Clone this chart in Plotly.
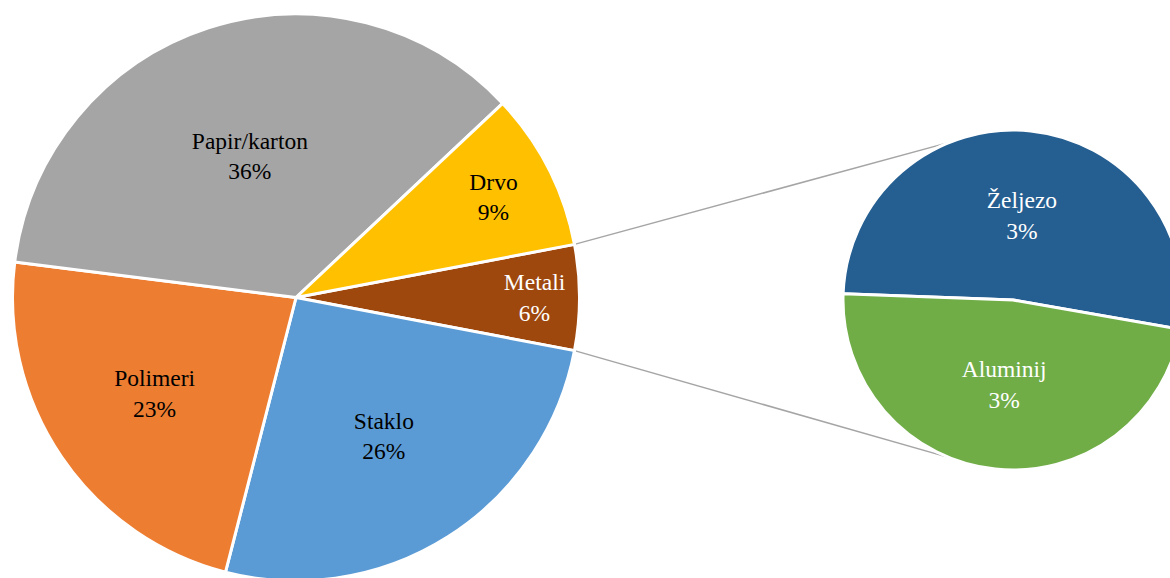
import math
import plotly.graph_objects as go

# ---- data ----
main_labels = ["Metali", "Staklo", "Polimeri", "Papir/karton", "Drvo"]
main_values = [6, 26, 23, 36, 9]
main_colors = ["#9E480E", "#5B9BD5", "#ED7D31", "#A5A5A5", "#FFC000"]
main_text_colors = ["white", "black", "black", "black", "black"]

metal_labels = ["Željezo", "Aluminij"]
metal_values = [3.13, 2.87]
metal_colors = ["#255E91", "#70AD47"]

W, H = 1190, 586
FONT = "Liberation Serif, Times New Roman, serif"
FONT_SIZE = 23.5

# geometry (pixels)
main_cx, main_cy_top, main_r = 296, 297.5, 283.5
sub_cx, sub_cy_top, sub_r = 1013, 300, 170
main_rotation = 79.2
sub_rotation = 272.1

main_dom_x = [(main_cx - main_r) / W, (main_cx + main_r) / W]
main_dom_y = [(H - main_cy_top - main_r) / H, (H - main_cy_top + main_r) / H]
sub_dom_x = [(sub_cx - sub_r) / W, (sub_cx + sub_r) / W]
sub_dom_y = [(H - sub_cy_top - sub_r) / H, (H - sub_cy_top + sub_r) / H]

fig = go.Figure()
fig.add_trace(go.Pie(
    labels=main_labels, values=main_values, sort=False, direction="clockwise",
    rotation=main_rotation,
    marker=dict(colors=main_colors, line=dict(color="white", width=3)),
    texttemplate="%{label}<br>%{value:.0f}%", textposition="inside",
    insidetextorientation="horizontal",
    textfont=dict(family=FONT, size=FONT_SIZE, color=main_text_colors),
    domain=dict(x=main_dom_x, y=main_dom_y), showlegend=False, hoverinfo="label+value",
))
fig.add_trace(go.Pie(
    labels=metal_labels, values=metal_values, sort=False, direction="clockwise",
    rotation=sub_rotation,
    marker=dict(colors=metal_colors, line=dict(color="white", width=3)),
    texttemplate="%{label}<br>%{value:.0f}%", textposition="inside",
    insidetextorientation="horizontal",
    textfont=dict(family=FONT, size=FONT_SIZE, color="white"),
    domain=dict(x=sub_dom_x, y=sub_dom_y), showlegend=False, hoverinfo="label+value",
))

# connector lines from the Metali slice edges to the secondary pie
metal_start = main_rotation
metal_end = main_rotation + 360 * main_values[0] / sum(main_values)


def main_pt(a):
    t = math.radians(a)
    return main_cx + main_r * math.sin(t), main_cy_top - main_r * math.cos(t)


def sub_pt(a):
    t = math.radians(a)
    return sub_cx + sub_r * math.sin(t), sub_cy_top - sub_r * math.cos(t)


for a_main, a_sub in [(metal_start, 338), (metal_end, 202)]:
    x0, y0 = main_pt(a_main)
    x1, y1 = sub_pt(a_sub)
    fig.add_shape(type="line", xref="paper", yref="paper",
                  x0=x0 / W, y0=1 - y0 / H, x1=x1 / W, y1=1 - y1 / H,
                  line=dict(color="#A5A5A5", width=1.5), layer="below")

fig.update_layout(
    width=W, height=H, margin=dict(l=0, r=0, t=0, b=0),
    paper_bgcolor="white", plot_bgcolor="white",
    font=dict(family=FONT),
)

fig.write_html(
    "out.html",
    config={"displayModeBar": False},
    post_script="document.body.style.margin='0';document.body.style.overflow='hidden';document.documentElement.style.overflow='hidden';",
)
